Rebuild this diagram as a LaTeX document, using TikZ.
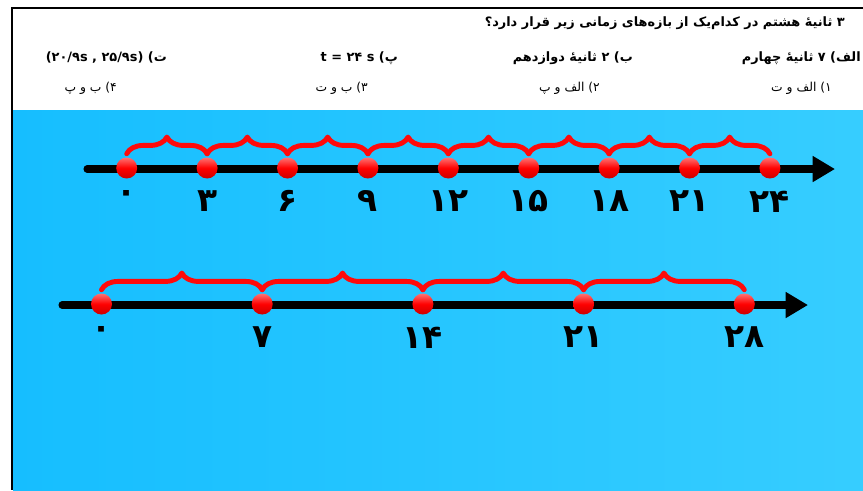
\documentclass[tikz,border=0pt]{standalone}
\usepackage{fontspec}
\usetikzlibrary{arrows.meta, positioning, decorations.pathreplacing}
\TeXXeTstate=1
\newfontfamily\farsi[Script=Arabic]{DejaVu Sans}
\definecolor{skyLeft}{RGB}{22, 190, 255}
\definecolor{skyRight}{RGB}{54, 205, 255}
\definecolor{braceRed}{RGB}{255, 10, 10}

\begin{document}
\begin{tikzpicture}[
  x=0.03cm, y=-0.03cm,
  frame/.style={draw=black, line width=2.4pt},
  axis/.style={draw=black, line width=6pt, line cap=round, -{Triangle[length=19pt, width=21pt]}},
  dot/.style={circle, top color=red!55!white, bottom color=red!80!black, middle color=red, minimum size=0.63cm, inner sep=0pt},
  tick/.style={font=\farsi\bfseries\fontsize{28}{28}\selectfont, inner sep=0pt},
  brc/.style={draw=braceRed, line width=4.2pt, line cap=round, line join=round, decorate, decoration={brace, amplitude=0.5cm}},
  qtext/.style={anchor=east, inner sep=0pt, font=\farsi\bfseries\fontsize{11}{13}\selectfont},
  atext/.style={anchor=east, inner sep=0pt, font=\farsi\fontsize{10.5}{13}\selectfont}
]
  \useasboundingbox (0,0) rectangle (863,490);
  \clip (0,0) rectangle (863,490);

  % Question box
  \fill[white] (0,0) rectangle (863,490);
  \fill[left color=skyLeft, right color=skyRight] (13,110) rectangle (863,490);
  \draw[frame] (11,8) -- (863,8);
  \draw[frame] (12,7) -- (12,490);

  % Question and choices
  \node[qtext] (quest) at (845,23) {\beginR ۳ ثانیهٔ هشتم در کدام‌یک از بازه‌های زمانی زیر قرار دارد؟\endR};
  \node[qtext] (optA) at (861,58) {\beginR الف) ۷ ثانیهٔ چهارم\endR};
  \node[qtext] (optB) at (633,58) {\beginR ب) ۲ ثانیهٔ دوازدهم\endR};
  \node[qtext] (optC) at (398,58) {\beginR پ) \beginL t = ۲۴ s\endL\endR};
  \node[qtext] (optD) at (167,58) {\beginR ت) \beginL(۲۰/۹s , ۲۵/۹s)\endL\endR};
  \node[atext] (ansA) at (832,88) {\beginR ۱) الف و ت\endR};
  \node[atext] (ansB) at (600,88) {\beginR ۲) الف و پ\endR};
  \node[atext] (ansC) at (368,88) {\beginR ۳) ب و ت\endR};
  \node[atext] (ansD) at (117,88) {\beginR ۴) ب و پ\endR};

  % First number line (step 3)
  \coordinate (s1) at (87,169);
  \coordinate (e1) at (835,169);
  \draw[axis] (s1) -- (e1);
  \foreach \v [count=\i from 0] in {۰,۳,۶,۹,۱۲,۱۵,۱۸,۲۱,۲۴} {
    \node[dot] (p\i) at (126.7+80.4*\i,168) {};
    \node[tick, below=10pt of p\i] (lp\i) {\v};
  }
  \foreach \i [evaluate=\i as \j using int(\i+1)] in {0,...,7}
    \draw[brc] ([yshift=3pt]p\i.north) -- ([yshift=3pt]p\j.north);

  % Second number line (step 7)
  \coordinate (s2) at (62,305);
  \coordinate (e2) at (808,305);
  \draw[axis] (s2) -- (e2);
  \foreach \v [count=\i from 0] in {۰,۷,۱۴,۲۱,۲۸} {
    \node[dot] (q\i) at (101.5+160.7*\i,304) {};
    \node[tick, below=10pt of q\i] (lq\i) {\v};
  }
  \foreach \i [evaluate=\i as \j using int(\i+1)] in {0,...,3}
    \draw[brc] ([yshift=3pt]q\i.north) -- ([yshift=3pt]q\j.north);
\end{tikzpicture}
\end{document}
